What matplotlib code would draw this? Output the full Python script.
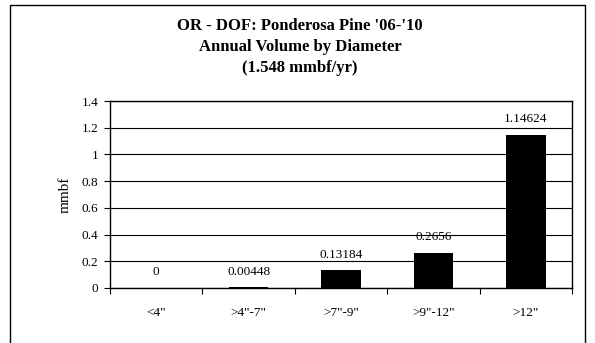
import matplotlib
matplotlib.use("Agg")
import matplotlib.pyplot as plt
from matplotlib.patches import Rectangle

categories = ['<4"', '>4"-7"', '>7"-9"', '>9"-12"', '>12"']
values = [0, 0.00448, 0.13184, 0.2656, 1.14624]
value_labels = ["0", "0.00448", "0.13184", "0.2656", "1.14624"]
yticks = [0, 0.2, 0.4, 0.6, 0.8, 1, 1.2, 1.4]
ytick_labels = ["0", "0.2", "0.4", "0.6", "0.8", "1", "1.2", "1.4"]
title_lines = ["OR - DOF: Ponderosa Pine '06-'10", "Annual Volume by Diameter", "(1.548 mmbf/yr)"]

plt.rcParams['font.family'] = ['Liberation Serif', 'DejaVu Serif']

W, H = 595, 343
fig = plt.figure(figsize=(W/100, H/100), dpi=100)

# outer chart border
fig.patches.append(Rectangle((10/W, -0.1), (585-10)/W, 1.1 - 5/H, transform=fig.transFigure,
                             fill=False, edgecolor='black', linewidth=1.0))

ax = fig.add_axes([110/W, 1 - 288/H, (572-110)/W, (288-101)/H])
x = list(range(len(categories)))
ax.bar(x, values, width=0.43, color='black', zorder=3)
ax.set_xlim(-0.5, len(categories) - 0.5)
ax.set_ylim(0, 1.4)
ax.set_yticks(yticks)
ax.set_yticklabels(ytick_labels, fontsize=9.5)
ax.yaxis.grid(True, color='black', linewidth=0.8, zorder=0)
ax.set_axisbelow(True)
ax.set_xticks(x)
ax.set_xticklabels(categories, fontsize=9.5)
ax.tick_params(axis='x', length=0, pad=14)
ax.set_xticks([i + 0.5 for i in range(-1, len(categories))], minor=True)
ax.tick_params(axis='x', which='minor', length=4.5, direction='out', width=0.8)
ax.tick_params(axis='y', length=4.5, direction='out', width=0.8, pad=4)
for s in ax.spines.values():
    s.set_color('black')
    s.set_linewidth(1.0)
ax.set_ylabel('mmbf', fontsize=11, labelpad=7)

for xi, v, lab in zip(x, values, value_labels):
    ax.annotate(lab, (xi, v), xytext=(0, 7), textcoords='offset points',
                ha='center', va='bottom', fontsize=9.5)

for i, line in enumerate(title_lines):
    fig.text(300 / W, 1 - (26 + i * 21) / H, line,
             ha='center', va='center', fontsize=12, fontweight='bold')

fig.savefig('out.png', dpi=100)
